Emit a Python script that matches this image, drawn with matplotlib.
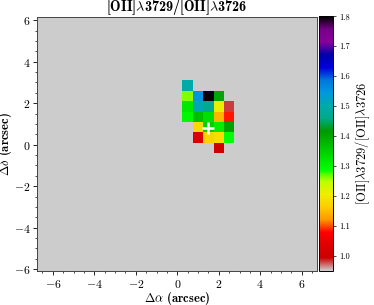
import numpy as np
import matplotlib
matplotlib.use("Agg")
import matplotlib.pyplot as plt
from matplotlib.ticker import AutoMinorLocator, MultipleLocator

plt.rcParams["font.family"] = "serif"
plt.rcParams["font.serif"] = ["cmr10"]
plt.rcParams["mathtext.fontset"] = "cm"
plt.rcParams["axes.formatter.use_mathtext"] = True

# spaxel centres (arcsec)
x_centres = [0.5, 1.0, 1.5, 2.0, 2.5]
y_centres = [2.85, 2.35, 1.85, 1.35, 0.85, 0.35, -0.15]

# line ratio per spaxel, rows top -> bottom, nan = no data
ratio = [
    [1.50, np.nan, np.nan, np.nan, np.nan],
    [1.26, 1.55, 1.795, 1.40, np.nan],
    [1.32, 1.51, 1.47, 1.21, 0.98],
    [1.30, 1.37, 1.33, 1.145, 1.085],
    [np.nan, 1.18, 1.35, 1.315, 1.405],
    [np.nan, 1.035, 1.17, 1.185, 1.29],
    [np.nan, np.nan, np.nan, 1.00, np.nan],
]

centre = (1.5, 0.81)
vmin, vmax = 0.95, 1.8
cbar_ticks = [1.0, 1.1, 1.2, 1.3, 1.4, 1.5, 1.6, 1.7, 1.8]

fig = plt.figure(figsize=(3.74, 3.05), dpi=100)
ax = fig.add_axes([0.0997, 0.1115, 0.747, 0.835])
cax = fig.add_axes([0.853, 0.1115, 0.038, 0.835])

ax.set_facecolor("#cccccc")
data = np.ma.masked_invalid(np.array(ratio))
mesh = ax.pcolormesh(x_centres, y_centres, data, shading="nearest",
                     cmap="nipy_spectral_r", vmin=vmin, vmax=vmax)
ax.plot(*centre, marker="+", color="white", markersize=9, mew=1.8)

ax.set_xlim(-6.75, 6.72)
ax.set_ylim(-6.08, 6.18)
ax.set_aspect("equal")
ax.xaxis.set_major_locator(MultipleLocator(2))
ax.yaxis.set_major_locator(MultipleLocator(2))
ax.xaxis.set_minor_locator(AutoMinorLocator(4))
ax.yaxis.set_minor_locator(AutoMinorLocator(4))
ax.tick_params(which="major", direction="out", length=3, width=0.6, labelsize=8.5, pad=2)
ax.tick_params(which="minor", direction="out", length=1.5, width=0.5)
for s in ax.spines.values():
    s.set_linewidth(0.7)
    s.set_color("#444444")

ax.set_xlabel(r"$\boldsymbol{\Delta}\alpha$ (arcsec)", family="cmb10", fontsize=9)
ax.set_ylabel(r"$\boldsymbol{\Delta}\delta$ (arcsec)", family="cmb10", fontsize=9)
ax.xaxis.set_label_coords(0.5, -0.075)
ax.yaxis.set_label_coords(-0.084, 0.5)
ax.set_title(r"[OII]$\lambda$3729/[OII]$\lambda$3726", family="cmb10",
             fontsize=10.2, pad=2)

cb = fig.colorbar(mesh, cax=cax, ticks=cbar_ticks)
cb.ax.set_yticklabels([f"{t:.1f}" for t in cbar_ticks])
cb.ax.tick_params(labelsize=6, length=2.5, width=0.5, pad=1.5)
cb.outline.set_linewidth(0.7)
cb.set_label(r"[OII]$\lambda$3729/[OII]$\lambda$3726", fontsize=9, labelpad=3)

fig.savefig("out.png", dpi=100)
